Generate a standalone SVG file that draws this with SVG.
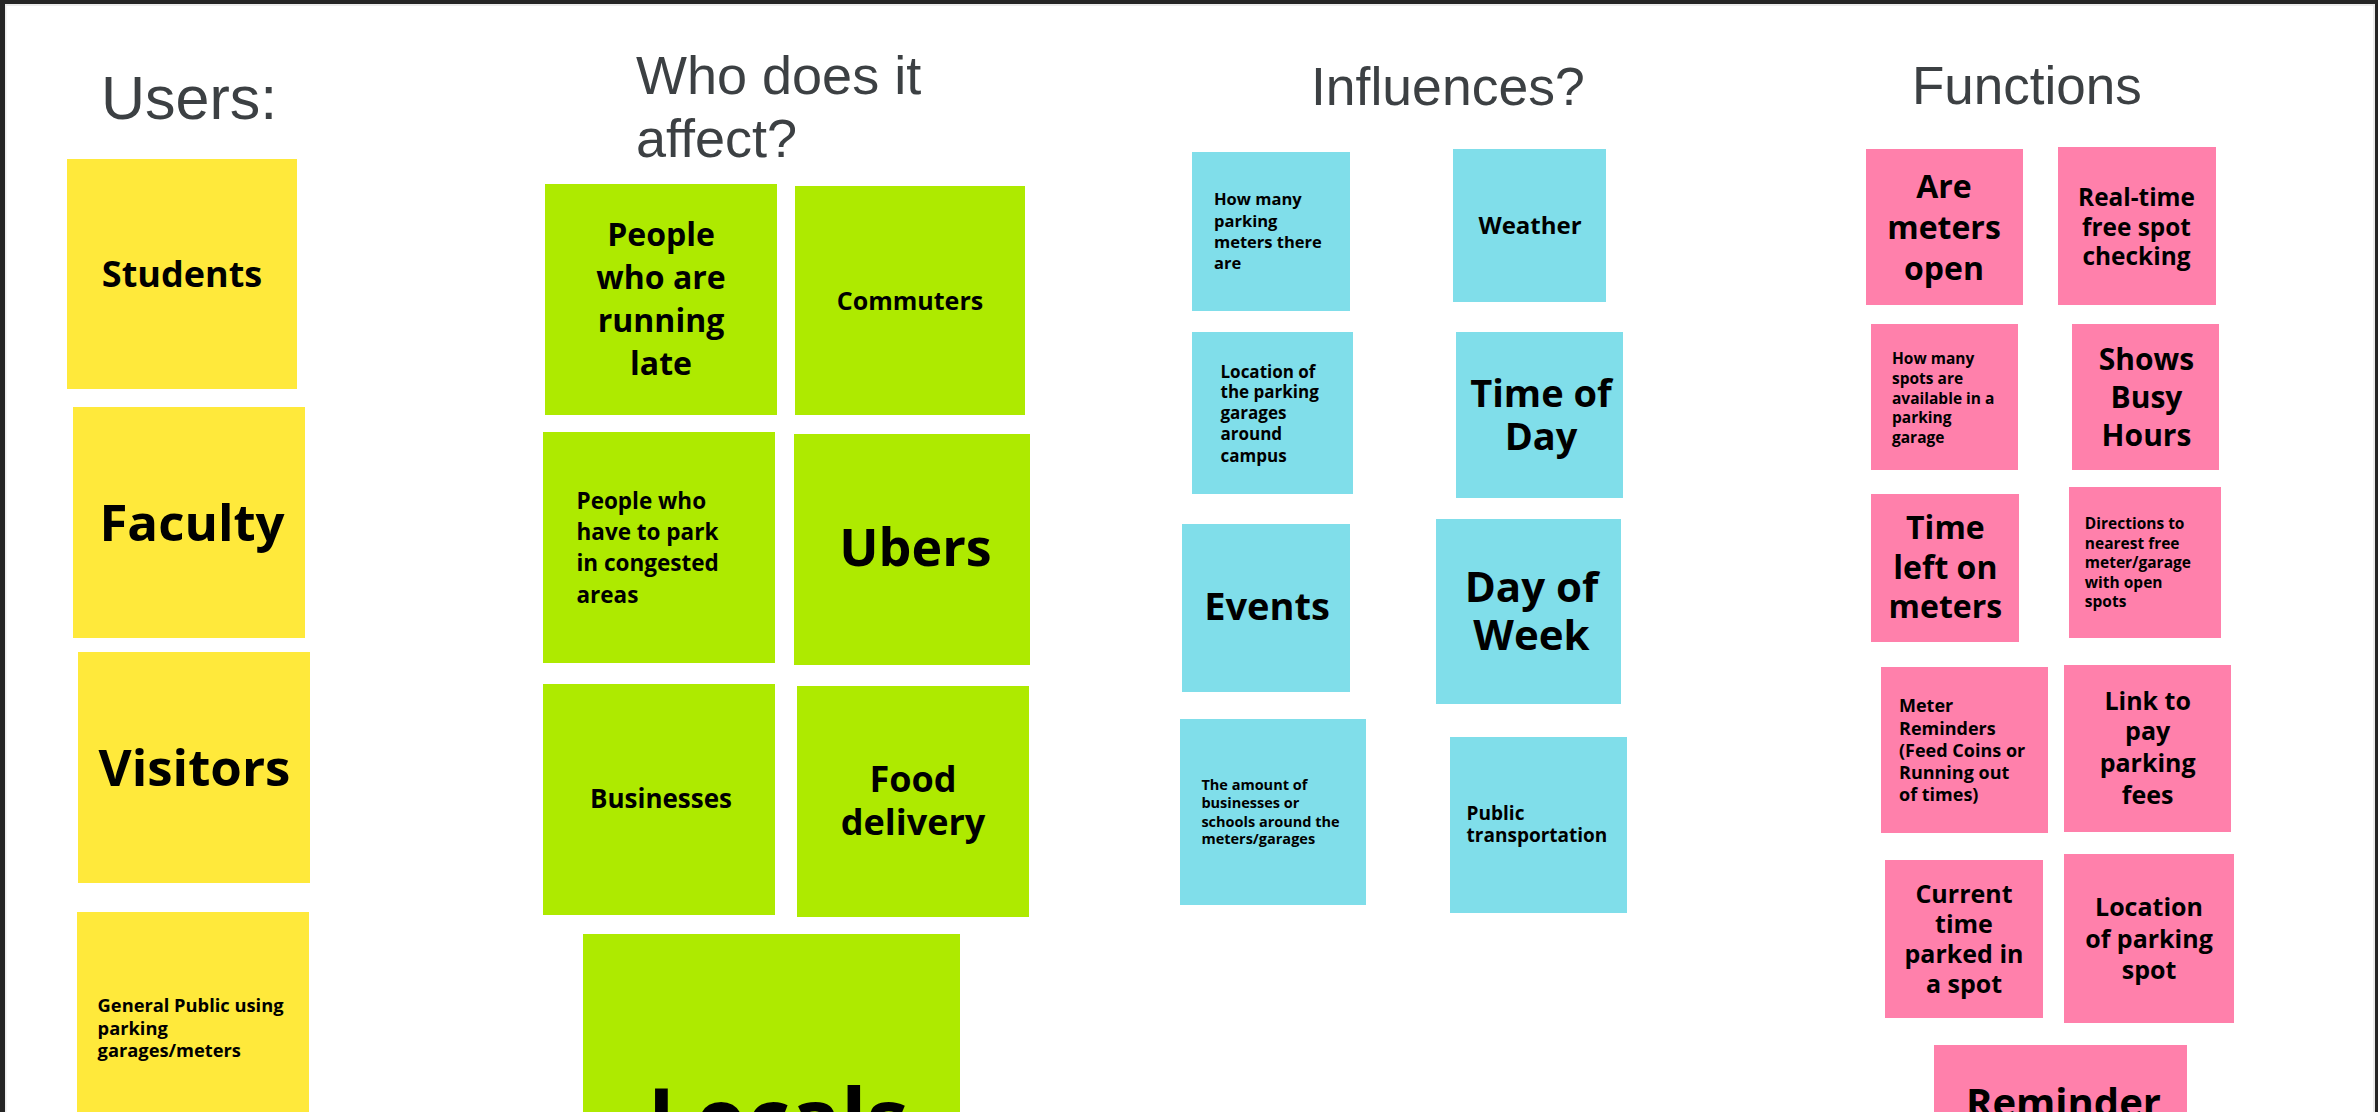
<svg xmlns="http://www.w3.org/2000/svg" width="2378" height="1112" viewBox="0 0 2378 1112">
<style>
.t{font-family:"Liberation Sans",Arial,sans-serif;fill:#3c4043;font-weight:400}
.n{font-family:"Open Sans","DejaVu Sans",sans-serif;font-weight:700;fill:#000}
.c{text-anchor:middle}
.y{fill:#ffe93b}
.g{fill:#aeea00}
.b{fill:#80deea}
.p{fill:#ff80ab}
</style>
<rect x="0" y="0" width="2378" height="1112" fill="#252525"/>
<rect x="5" y="4" width="2370" height="1108" fill="#ececec"/>
<rect x="6.5" y="6" width="2366.5" height="1106" fill="#ffffff"/>

<g id="titles">
<text class="t" x="101" y="119" font-size="61">Users:</text>
<text class="t" x="636" y="93.6" font-size="54">Who does it</text>
<text class="t" x="636" y="157" font-size="54">affect?</text>
<text class="t" x="1311" y="105" font-size="53.5">Influences?</text>
<text class="t" x="1912" y="104" font-size="53">Functions</text>
</g>

<g id="connectors"></g>

<g id="students"><rect class="y" x="67" y="159" width="230" height="230"/><text class="n c" x="182" y="287" font-size="36">Students</text></g>
<g id="faculty"><rect class="y" x="73" y="407" width="232" height="231"/><text class="n c" x="192" y="541" font-size="51">Faculty</text></g>
<g id="visitors"><rect class="y" x="78" y="652" width="232" height="231"/><text class="n c" x="194.5" y="785.5" font-size="51">Visitors</text></g>
<g id="general-public"><rect class="y" x="77" y="912" width="232" height="220"/><text class="n" font-size="18.3"><tspan x="97.6" y="1012">General Public using</tspan><tspan x="97.6" y="1034.6">parking</tspan><tspan x="97.6" y="1057">garages/meters</tspan></text></g>

<g id="running-late"><rect class="g" x="545" y="184" width="232" height="231"/><text class="n c" font-size="32"><tspan x="661" y="246">People</tspan><tspan x="661" y="289">who are</tspan><tspan x="661" y="332">running</tspan><tspan x="661" y="375">late</tspan></text></g>
<g id="commuters"><rect class="g" x="795" y="186" width="230" height="229"/><text class="n c" x="910" y="310" font-size="25">Commuters</text></g>
<g id="congested"><rect class="g" x="543" y="432" width="232" height="231"/><text class="n" font-size="22.5"><tspan x="576.5" y="509">People who</tspan><tspan x="576.5" y="539.5">have to park</tspan><tspan x="576.5" y="571">in congested</tspan><tspan x="576.5" y="603">areas</tspan></text></g>
<g id="ubers"><rect class="g" x="794" y="434" width="236" height="231"/><text class="n c" x="915.5" y="566" font-size="52">Ubers</text></g>
<g id="businesses"><rect class="g" x="543" y="684" width="232" height="231"/><text class="n c" x="661" y="808" font-size="26">Businesses</text></g>
<g id="food-delivery"><rect class="g" x="797" y="686" width="232" height="231"/><text class="n c" font-size="36"><tspan x="913" y="792">Food</tspan><tspan x="913" y="835">delivery</tspan></text></g>
<g id="locals"><rect class="g" x="583" y="934" width="377" height="200"/><text class="n c" x="778" y="1149" font-size="84">Locals</text></g>

<g id="meters-count"><rect class="b" x="1192" y="152" width="158" height="159"/><text class="n" font-size="16.5"><tspan x="1214" y="205">How many</tspan><tspan x="1214" y="226.5">parking</tspan><tspan x="1214" y="248">meters there</tspan><tspan x="1214" y="269">are</tspan></text></g>
<g id="weather"><rect class="b" x="1453" y="149" width="153" height="153"/><text class="n c" x="1530" y="234" font-size="24">Weather</text></g>
<g id="garage-location"><rect class="b" x="1192" y="332" width="161" height="162"/><text class="n" font-size="17"><tspan x="1220.5" y="377.5">Location of</tspan><tspan x="1220.5" y="398">the parking</tspan><tspan x="1220.5" y="419">garages</tspan><tspan x="1220.5" y="440">around</tspan><tspan x="1220.5" y="462">campus</tspan></text></g>
<g id="time-of-day"><rect class="b" x="1456" y="332" width="167" height="166"/><text class="n c" font-size="38"><tspan x="1541" y="407">Time of</tspan><tspan x="1541" y="450">Day</tspan></text></g>
<g id="events"><rect class="b" x="1182" y="524" width="168" height="168"/><text class="n c" x="1267" y="620" font-size="38">Events</text></g>
<g id="day-of-week"><rect class="b" x="1436" y="519" width="185" height="185"/><text class="n c" font-size="42"><tspan x="1531.5" y="602">Day of</tspan><tspan x="1531.5" y="649.6">Week</tspan></text></g>
<g id="businesses-schools"><rect class="b" x="1180" y="719" width="186" height="186"/><text class="n" font-size="14.5"><tspan x="1201.4" y="790">The amount of</tspan><tspan x="1201.4" y="808">businesses or</tspan><tspan x="1201.4" y="826.7">schools around the</tspan><tspan x="1201.4" y="843.5">meters/garages</tspan></text></g>
<g id="public-transport"><rect class="b" x="1450" y="737" width="177" height="176"/><text class="n" font-size="19"><tspan x="1466.6" y="819.5">Public</tspan><tspan x="1466.6" y="842">transportation</tspan></text></g>

<g id="meters-open"><rect class="p" x="1866" y="149" width="157" height="156"/><text class="n c" font-size="32"><tspan x="1944" y="198">Are</tspan><tspan x="1944" y="238.6">meters</tspan><tspan x="1944" y="279.5">open</tspan></text></g>
<g id="realtime"><rect class="p" x="2058" y="147" width="158" height="158"/><text class="n c" font-size="24.4"><tspan x="2136.5" y="206">Real-time</tspan><tspan x="2136.5" y="235.7">free spot</tspan><tspan x="2136.5" y="265">checking</tspan></text></g>
<g id="spots-available"><rect class="p" x="1871" y="324" width="147" height="146"/><text class="n" font-size="15.5"><tspan x="1892" y="364">How many</tspan><tspan x="1892" y="384">spots are</tspan><tspan x="1892" y="403.6">available in a</tspan><tspan x="1892" y="423">parking</tspan><tspan x="1892" y="442.5">garage</tspan></text></g>
<g id="busy-hours"><rect class="p" x="2072" y="324" width="147" height="146"/><text class="n c" font-size="30"><tspan x="2146.5" y="369.6">Shows</tspan><tspan x="2146.5" y="408">Busy</tspan><tspan x="2146.5" y="446.4">Hours</tspan></text></g>
<g id="time-left"><rect class="p" x="1871" y="494" width="148" height="148"/><text class="n c" font-size="32"><tspan x="1945.4" y="539">Time</tspan><tspan x="1945.4" y="579.4">left on</tspan><tspan x="1945.4" y="618">meters</tspan></text></g>
<g id="directions"><rect class="p" x="2069" y="487" width="152" height="151"/><text class="n" font-size="15.5"><tspan x="2084.8" y="528.6">Directions to</tspan><tspan x="2084.8" y="549">nearest free</tspan><tspan x="2084.8" y="568">meter/garage</tspan><tspan x="2084.8" y="587.6">with open</tspan><tspan x="2084.8" y="607.3">spots</tspan></text></g>
<g id="meter-reminders"><rect class="p" x="1881" y="667" width="167" height="166"/><text class="n" font-size="18"><tspan x="1899" y="712">Meter</tspan><tspan x="1899" y="734.6">Reminders</tspan><tspan x="1899" y="756.8">(Feed Coins or</tspan><tspan x="1899" y="778.7">Running out</tspan><tspan x="1899" y="801">of times)</tspan></text></g>
<g id="pay-link"><rect class="p" x="2064" y="665" width="167" height="167"/><text class="n c" font-size="25"><tspan x="2147.7" y="709.5">Link to</tspan><tspan x="2147.7" y="740">pay</tspan><tspan x="2147.7" y="772">parking</tspan><tspan x="2147.7" y="803.8">fees</tspan></text></g>
<g id="current-time"><rect class="p" x="1885" y="860" width="158" height="158"/><text class="n c" font-size="25"><tspan x="1964" y="903">Current</tspan><tspan x="1964" y="932.8">time</tspan><tspan x="1964" y="963">parked in</tspan><tspan x="1964" y="992.6">a spot</tspan></text></g>
<g id="spot-location"><rect class="p" x="2064" y="854" width="170" height="169"/><text class="n c" font-size="25"><tspan x="2149" y="916">Location</tspan><tspan x="2149" y="947.8">of parking</tspan><tspan x="2149" y="979">spot</tspan></text></g>
<g id="reminder"><rect class="p" x="1934" y="1045" width="253" height="100"/><text class="n c" x="2063.5" y="1117" font-size="40">Reminder</text></g>
</svg>
